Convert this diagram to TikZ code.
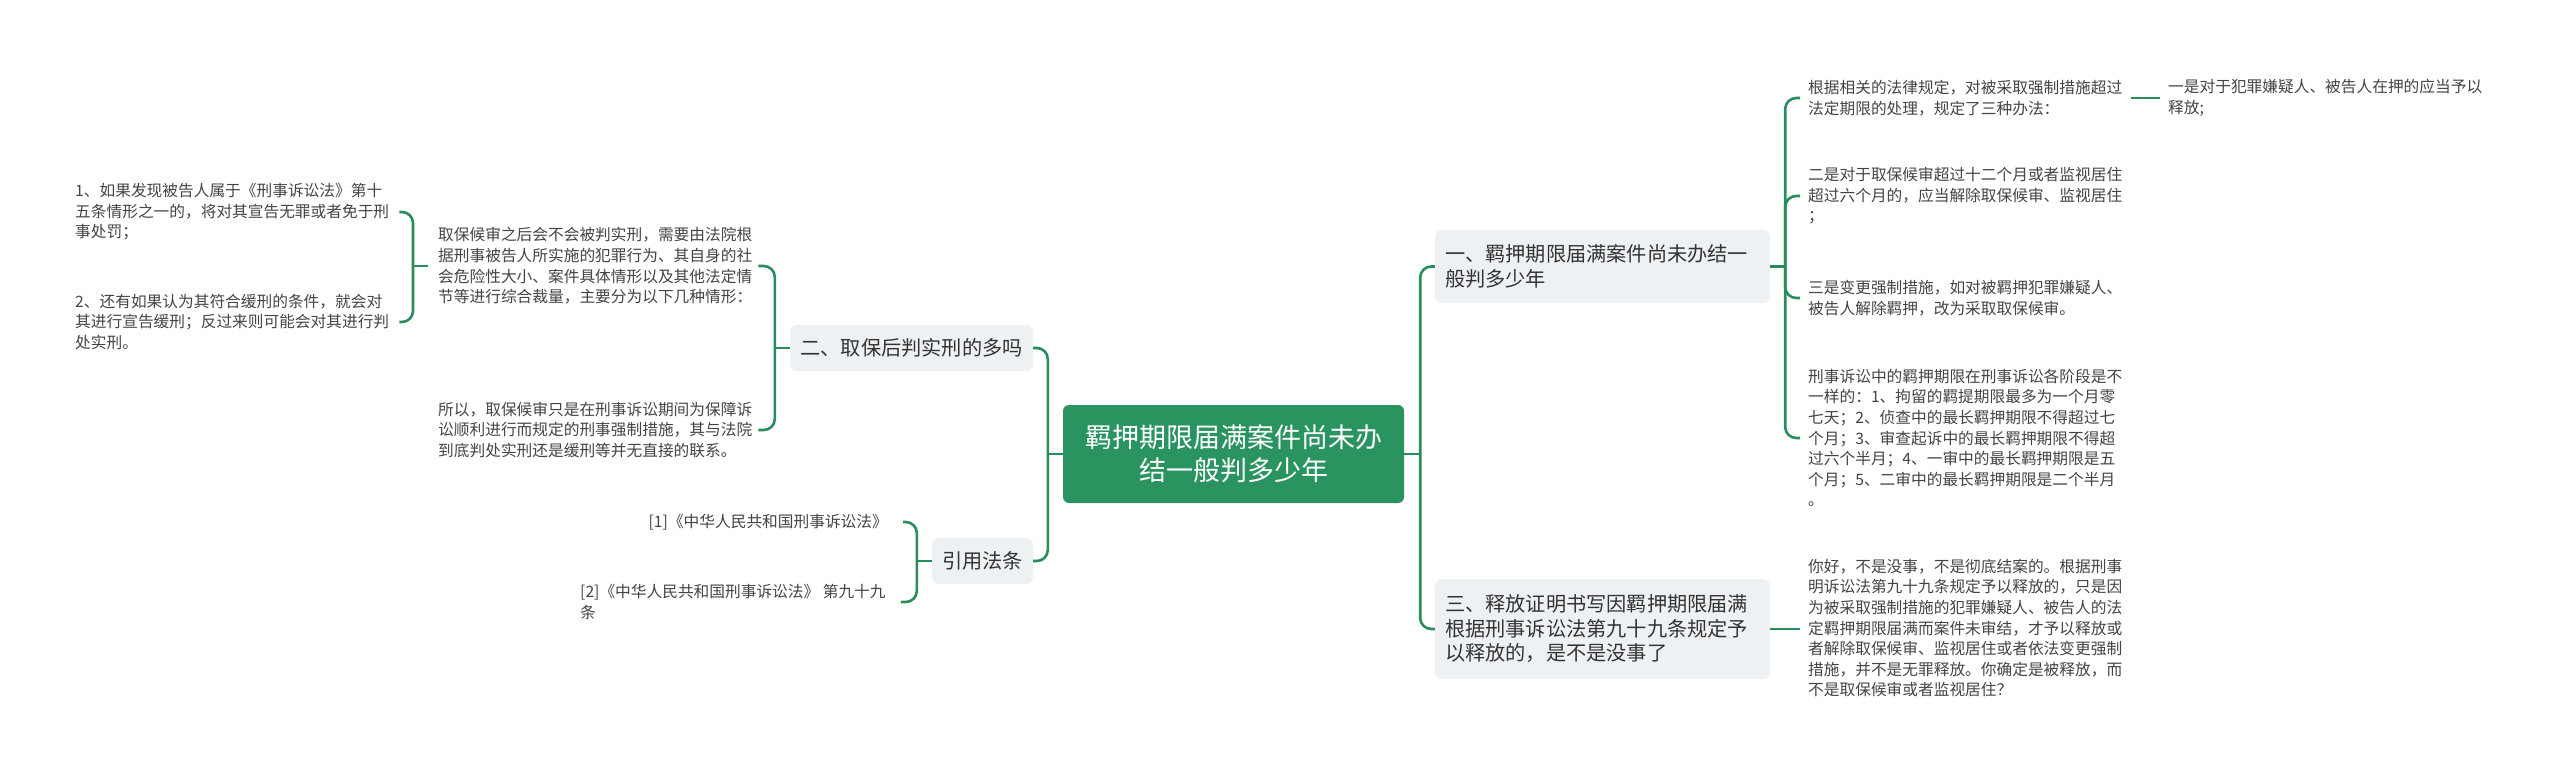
\documentclass[tikz,border=0pt]{standalone}
\usepackage{fontspec}
\setmainfont{Noto Sans CJK SC}
\usetikzlibrary{calc}
\definecolor{mgreen}{HTML}{2A9461}
\definecolor{lgreen}{HTML}{2A8C5C}
\definecolor{boxfill}{HTML}{EEF1F4}
\definecolor{txt}{HTML}{333333}
\definecolor{leaftxt}{HTML}{444444}
\begin{document}
\begin{tikzpicture}[x=1pt,y=-1pt,
 conn/.style={draw=lgreen, line width=2.6pt, rounded corners=11pt},
 rootbox/.style={fill=mgreen, rounded corners=6pt, text=white, font=\fontsize{27}{33}\selectfont, align=center, minimum width=341pt, minimum height=98pt, inner sep=0pt},
 topic/.style={fill=boxfill, rounded corners=7pt, text=txt, font=\fontsize{20.2}{24.5}\selectfont, inner sep=0pt},
 leaf/.style={text=leaftxt, font=\fontsize{15.7}{20.6}\selectfont, align=left, inner sep=0pt},
]
\useasboundingbox (0,0) rectangle (2560,776);
\fill[white] (0,0) rectangle (2560,776);

% root
\node[rootbox] (root) at (1233.5,454) {羁押期限届满案件尚未办\\结一般判多少年};

% right topics
\node[topic, minimum width=335pt, minimum height=73pt, text width=315pt, align=left] (t1) at (1602.5,266.5)
 {一、羁押期限届满案件尚未办结一\\般判多少年};
\node[topic, minimum width=335pt, minimum height=100pt, text width=315pt, align=left] (t3) at (1602.5,629)
 {三、释放证明书写因羁押期限届满\\根据刑事诉讼法第九十九条规定予\\以释放的，是不是没事了};

% left topics
\node[topic, minimum width=243pt, minimum height=46pt, align=center] (t2) at (911.5,348) {二、取保后判实刑的多吗};
\node[topic, minimum width=101pt, minimum height=46pt, align=center] (t4) at (982.5,561) {引用法条};

% right leaves
\node[leaf, anchor=west] (a1) at (1808,98) {根据相关的法律规定，对被采取强制措施超过\\法定期限的处理，规定了三种办法：};
\node[leaf, anchor=west] (a1c) at (2168,98) {一是对于犯罪嫌疑人、被告人在押的应当予以\\释放;};
\node[leaf, anchor=west] (a2) at (1808,196) {二是对于取保候审超过十二个月或者监视居住\\超过六个月的，应当解除取保候审、监视居住\\；};
\node[leaf, anchor=west] (a3) at (1808,298) {三是变更强制措施，如对被羁押犯罪嫌疑人、\\被告人解除羁押，改为采取取保候审。};
\node[leaf, anchor=west] (a4) at (1808,438) {刑事诉讼中的羁押期限在刑事诉讼各阶段是不\\一样的：1、拘留的羁提期限最多为一个月零\\七天；2、侦查中的最长羁押期限不得超过七\\个月；3、审查起诉中的最长羁押期限不得超\\过六个半月；4、一审中的最长羁押期限是五\\个月；5、二审中的最长羁押期限是二个半月\\。};
\node[leaf, anchor=west] (c1) at (1808,628) {你好，不是没事，不是彻底结案的。根据刑事\\明诉讼法第九十九条规定予以释放的，只是因\\为被采取强制措施的犯罪嫌疑人、被告人的法\\定羁押期限届满而案件未审结，才予以释放或\\者解除取保候审、监视居住或者依法变更强制\\措施，并不是无罪释放。你确定是被释放，而\\不是取保候审或者监视居住？};

% left leaves
\node[leaf, anchor=west] (q1) at (438,266) {取保候审之后会不会被判实刑，需要由法院根\\据刑事被告人所实施的犯罪行为、其自身的社\\会危险性大小、案件具体情形以及其他法定情\\节等进行综合裁量，主要分为以下几种情形：};
\node[leaf, anchor=west] (q2) at (438,430) {所以，取保候审只是在刑事诉讼期间为保障诉\\讼顺利进行而规定的刑事强制措施，其与法院\\到底判处实刑还是缓刑等并无直接的联系。};
\node[leaf, anchor=west] (e1) at (75,212) {1、如果发现被告人属于《刑事诉讼法》第十\\五条情形之一的，将对其宣告无罪或者免于刑\\事处罚；};
\node[leaf, anchor=west] (e2) at (75,322) {2、还有如果认为其符合缓刑的条件，就会对\\其进行宣告缓刑；反过来则可能会对其进行判\\处实刑。};
\node[leaf, anchor=east] (r1) at (888,522) {[1]《中华人民共和国刑事诉讼法》};
\node[leaf, anchor=west] (r2) at (580,602) {[2]《中华人民共和国刑事诉讼法》 第九十九\\条};

% connectors: root right
\coordinate (rj) at ($(root.east)+(16,0)$);
\draw[conn] (root.east) -- (rj);
\draw[conn] (rj) |- (t1.west);
\draw[conn] (rj) |- (t3.west);
% topic 1 to its leaves
\coordinate (aj) at ($(t1.east)+(15,0)$);
\draw[conn] (t1.east) -- (aj);
\draw[conn] (aj) |- ($(a1.west)+(-8,0)$);
\draw[conn] (aj) |- ($(a2.west)+(-8,0)$);
\draw[conn] (aj) |- ($(a3.west)+(-8,0)$);
\draw[conn] (aj) |- ($(a4.west)+(-8,0)$);
\draw[conn] ($(a1.east)+(9,0)$) -- ($(a1.east -| a1c.west)+(-8,0)$);
% topic 3 to its leaf
\draw[conn] (t3.east) -- ($(t3.east -| c1.west)+(-8,0)$);

% connectors: root left
\coordinate (lj) at ($(root.west)+(-15,0)$);
\draw[conn] (root.west) -- (lj);
\draw[conn] (lj) |- (t2.east);
\draw[conn] (lj) |- (t4.east);
% topic 2
\coordinate (bj) at ($(t2.west)+(-15,0)$);
\draw[conn] (t2.west) -- (bj);
\draw[conn] (bj) |- ($(q1.east)+(6,0)$);
\draw[conn] (bj) |- ($(q2.east)+(6,0)$);
% q1 to its leaves
\coordinate (cj) at ($(q1.west)+(-25,0)$);
\draw[conn] ($(q1.west)+(-10,0)$) -- (cj);
\draw[conn] (cj) |- ($(e1.east)+(10,0)$);
\draw[conn] (cj) |- ($(e2.east)+(10,0)$);
% references
\coordinate (dj) at ($(t4.west)+(-15,0)$);
\draw[conn] (t4.west) -- (dj);
\draw[conn] (dj) |- ($(r1.east)+(15,0)$);
\draw[conn] (dj) |- ($(r2.east)+(15,0)$);
\end{tikzpicture}
\end{document}
